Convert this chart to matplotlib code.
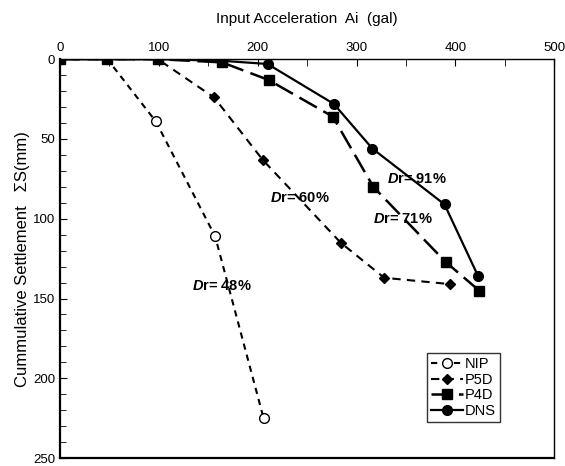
import matplotlib.pyplot as plt
from matplotlib.ticker import MultipleLocator

plt.rcParams['font.family'] = ['Liberation Sans Narrow', 'Liberation Sans', 'DejaVu Sans']
plt.rcParams['mathtext.fontset'] = 'custom'
plt.rcParams['mathtext.it'] = 'Liberation Sans:italic:bold'

# данные
nip_x = [0, 48, 97, 157, 206]
nip_y = [0, 0, 39, 111, 225]
p5d_x = [0, 48, 99, 156, 205, 284, 328, 395]
p5d_y = [0, 0, 0, 24, 63, 115, 137, 141]
p4d_x = [0, 48, 99, 164, 211, 276, 317, 390, 424]
p4d_y = [0, 0, 0, 2, 13, 36, 80, 127, 145]
dns_x = [0, 48, 99, 164, 210, 277, 316, 389, 423]
dns_y = [0, 0, 0, 1, 3, 28, 56, 91, 136]

labels = ['48%', '60%', '71%', '91%']
label_x = [164, 243, 347, 361]
label_y = [142, 87, 100, 75]

fig = plt.figure(figsize=(5.65, 4.66), dpi=100)
ax = fig.add_axes([0.106, 0.017, 0.875, 0.856])

ax.plot(nip_x, nip_y, color='black', lw=1.5, dashes=(3, 2.5), marker='o',
        ms=7, mfc='white', mec='black', label='NIP')
ax.plot(p5d_x, p5d_y, color='black', lw=1.5, dashes=(4, 3), marker='D',
        ms=5, label='P5D')
ax.plot(p4d_x, p4d_y, color='black', lw=1.8, dashes=(8, 3), marker='s',
        ms=7, label='P4D')
ax.plot(dns_x, dns_y, color='black', lw=1.6, marker='o', ms=7, label='DNS')

for t, x, y in zip(labels, label_x, label_y):
    ax.text(x, y, r'$\mathit{D}$' + 'r= ' + t, ha='center', va='center',
            fontsize=10.5, fontweight='bold', family=['Liberation Sans', 'DejaVu Sans'])

ax.set_xlim(0, 500)
ax.set_ylim(250, 0)
ax.xaxis.tick_top()
ax.xaxis.set_label_position('top')
ax.xaxis.set_major_locator(MultipleLocator(100))
ax.xaxis.set_minor_locator(MultipleLocator(50))
ax.yaxis.set_major_locator(MultipleLocator(50))
ax.yaxis.set_minor_locator(MultipleLocator(10))
ax.tick_params(which='both', direction='in', labelsize=9.5)
ax.tick_params(which='major', length=5)
ax.tick_params(which='minor', length=4)
ax.tick_params(axis='x', which='minor', length=5)
ax.spines['left'].set_linewidth(1.6)
ax.spines['bottom'].set_linewidth(1.6)
ax.spines['top'].set_linewidth(1.0)
ax.spines['right'].set_linewidth(1.0)

ax.set_xlabel('Input Acceleration  Ai  (gal)', fontsize=11, labelpad=14)
ax.set_ylabel('Cummulative Settlement   ΣS(mm)', fontsize=12, labelpad=2)

ax.legend(loc='lower right', bbox_to_anchor=(0.89, 0.09), frameon=True, fancybox=False,
          edgecolor='black', fontsize=10.5, handlelength=2.2, handletextpad=0.1,
          labelspacing=0.1, borderpad=0.3, borderaxespad=0)

fig.savefig('out.png', dpi=100)
